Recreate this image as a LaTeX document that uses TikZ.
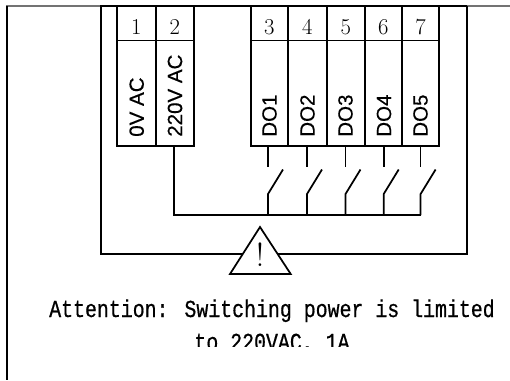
\documentclass[tikz,border=0pt]{standalone}
\usepackage{fontspec}
\newfontfamily\armono[FakeStretch=0.815,FakeBold=0.6]{Liberation Mono}
\newfontfamily\arsans[FakeBold=0.4]{Liberation Sans}
\begin{document}
\begin{tikzpicture}[x=0.75pt,y=-0.75pt,
  thin line/.style={line width=1.1pt},
  thick line/.style={line width=1.3pt},
  heavy line/.style={line width=2pt},
  numlabel/.style={font=\fontsize{17}{17}\selectfont,inner sep=0pt},
  siglabel/.style={font=\arsans\fontsize{15.4}{15.4}\selectfont,rotate=90,anchor=west,inner sep=0pt},
  note/.style={font=\armono\fontsize{18.3}{18.3}\selectfont,inner sep=0pt,anchor=base}]
\useasboundingbox (0,0) rectangle (510,380);
\fill[white] (0,0) rectangle (510,380);
% frame
\coordinate (ftl) at (7,6); \coordinate (fbl) at (7,380);
\coordinate (t0) at (6,6); \coordinate (t1) at (100,6);
\coordinate (t2) at (467,6); \coordinate (t3) at (510,6);
\draw[thin line,black!55] (t0)--(t1) (t2)--(t3);
\draw[thick line] (ftl)--(fbl);
% terminal block cells
\foreach \n/\xa/\xb/\lab/\xl in {1/117/155.7/0V AC/136.7,2/155.7/194/220V AC/175,3/250.7/288/DO1/269.5,4/288/326.7/DO2/307.5,5/326.7/364.7/DO3/345.5,6/364.7/402/DO4/384,7/402/439/DO5/420.5}{
  \draw[thick line] (\xa,6) rectangle (\xb,146);
  \draw[thick line] (\xa,40.5)--(\xb,40.5);
  \node[numlabel] (n\n) at ({(\xa+\xb)/2},27) {\n};
  \node[siglabel] (s\n) at (\xl,137) {\lab};
}
% outer loop and warning triangle
\coordinate (la) at (101,6); \coordinate (lb) at (101,253.7);
\coordinate (ra) at (467,6); \coordinate (rb) at (467,253.7);
\coordinate (ta) at (260,227); \coordinate (tl) at (230,274); \coordinate (tr) at (290.7,274);
\draw[thick line] (la)--(lb)--(rb)--(ra);
\draw[heavy line] (t1)--(t2);
\draw[thick line,fill=white,line join=miter] (ta)--(tl)--(tr)--cycle;
\node[inner sep=0pt,font=\fontsize{25}{25}\selectfont] (bang) at (260,255) {!};
% bus and switches
\coordinate (b0) at (174.3,146); \coordinate (b1) at (174.3,215); \coordinate (b2) at (420.6,215);
\draw[thick line] (b0)--(b1)--(b2);
\foreach \i/\x in {1/268,2/307,3/345.5,4/383.7,5/420.6}{
  \coordinate (up\i) at (\x,146); \coordinate (us\i) at (\x,167);
  \coordinate (lo\i) at (\x,215); \coordinate (pv\i) at (\x,194); \coordinate (tp\i) at (\x+15,169.5);
  \draw[thick line] (up\i)--(us\i);
  \draw[thick line] (lo\i)--(pv\i)--(tp\i);
}
% note
\node[note] (note1) at (272,317) {Attention: Switching power is limited};
\begin{scope}
\clip (0,300) rectangle (510,346.7);
\node[note] (note2) at (272,350) {to 220VAC, 1A};
\end{scope}
\end{tikzpicture}
\end{document}
